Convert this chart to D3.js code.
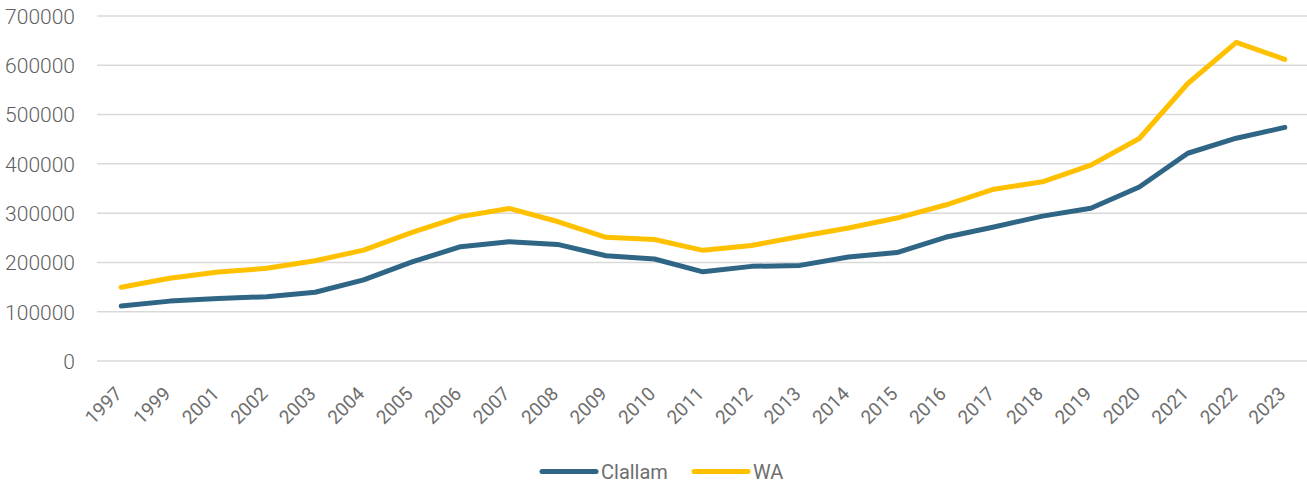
<!DOCTYPE html>
<html>
<head>
<meta charset="utf-8">
<script src="https://cdn.jsdelivr.net/npm/d3@7"></script>
<style>
html,body{margin:0;padding:0;background:#fff;}
svg text{font-family:Roboto, "Noto Sans", sans-serif;font-weight:400;fill:#6e6e6e;}
svg .ylab text{font-weight:300;fill:#5f5f5f;}
</style>
</head>
<body>
<svg id="chart" width="1307" height="485"></svg>
<script>
const years = ["1997","1999","2001","2002","2003","2004","2005","2006","2007","2008","2009","2010","2011","2012","2013","2014","2015","2016","2017","2018","2019","2020","2021","2022","2023"];
const clallam = [111500,121500,127000,130500,139500,164500,201000,232000,242000,236500,213500,207000,181000,192000,194000,211000,220000,251000,272000,294000,310000,353000,421500,452000,474000];
const wa = [149500,168000,180500,188000,203500,225000,261000,293000,309500,283000,251000,246500,224500,234500,252500,270000,290000,316500,348500,363500,397500,451500,563000,646500,612000];
const yTicks = [0,100000,200000,300000,400000,500000,600000,700000];
const seriesNames = ["Clallam","WA"];
const seriesColors = ["#2f6686","#ffc000"];

const svg = d3.select("#chart");
const x = d3.scaleBand().domain(years).range([97, 1309]);
const y = d3.scaleLinear().domain([0, 700000]).range([361, 16]);
const cx = d => x(d) + x.bandwidth() / 2;

// gridlines
svg.append("g").selectAll("line").data(yTicks).join("line")
  .attr("x1", 97).attr("x2", 1307)
  .attr("y1", d => y(d)).attr("y2", d => y(d))
  .attr("stroke", "#d9d9d9").attr("stroke-width", 1.5);

// y axis labels
const yAxis = d3.axisLeft(y).tickValues(yTicks).tickSize(0).tickPadding(0).tickFormat(d3.format("d"));
const ya = svg.append("g").attr("class", "ylab").attr("transform", "translate(75,0)").call(yAxis);
ya.select(".domain").remove();
ya.selectAll("text").attr("font-size", 21).attr("font-family", null).attr("dy", "0.35em").attr("fill", null);

// x axis labels
const xAxis = d3.axisBottom(x).tickSize(0).tickPadding(0);
const xa = svg.append("g").attr("transform", "translate(0,361)").call(xAxis);
xa.select(".domain").remove();
xa.selectAll("text")
  .attr("font-size", 19)
  .attr("font-family", null)
  .attr("fill", null)
  .attr("text-anchor", "end")
  .attr("dy", null).attr("y", 0)
  .attr("transform", "translate(2,34) rotate(-45)");

// lines
const line = d3.line().x((d, i) => cx(years[i])).y(d => y(d));
[clallam, wa].forEach((s, k) => {
  svg.append("path").datum(s)
    .attr("d", line)
    .attr("fill", "none")
    .attr("stroke", seriesColors[k])
    .attr("stroke-width", 5)
    .attr("stroke-linejoin", "round")
    .attr("stroke-linecap", "round");
});

// legend
const legendX = [542, 694];
seriesNames.forEach((n, k) => {
  const g = svg.append("g").attr("transform", `translate(${legendX[k]},471.5)`);
  g.append("line").attr("x1", 0).attr("x2", 54).attr("y1", 0).attr("y2", 0)
    .attr("stroke", seriesColors[k]).attr("stroke-width", 5).attr("stroke-linecap", "round");
  g.append("text").attr("x", 59).attr("y", 0).attr("dy", "0.35em")
    .attr("font-size", 20).text(n);
});
</script>
</body>
</html>
